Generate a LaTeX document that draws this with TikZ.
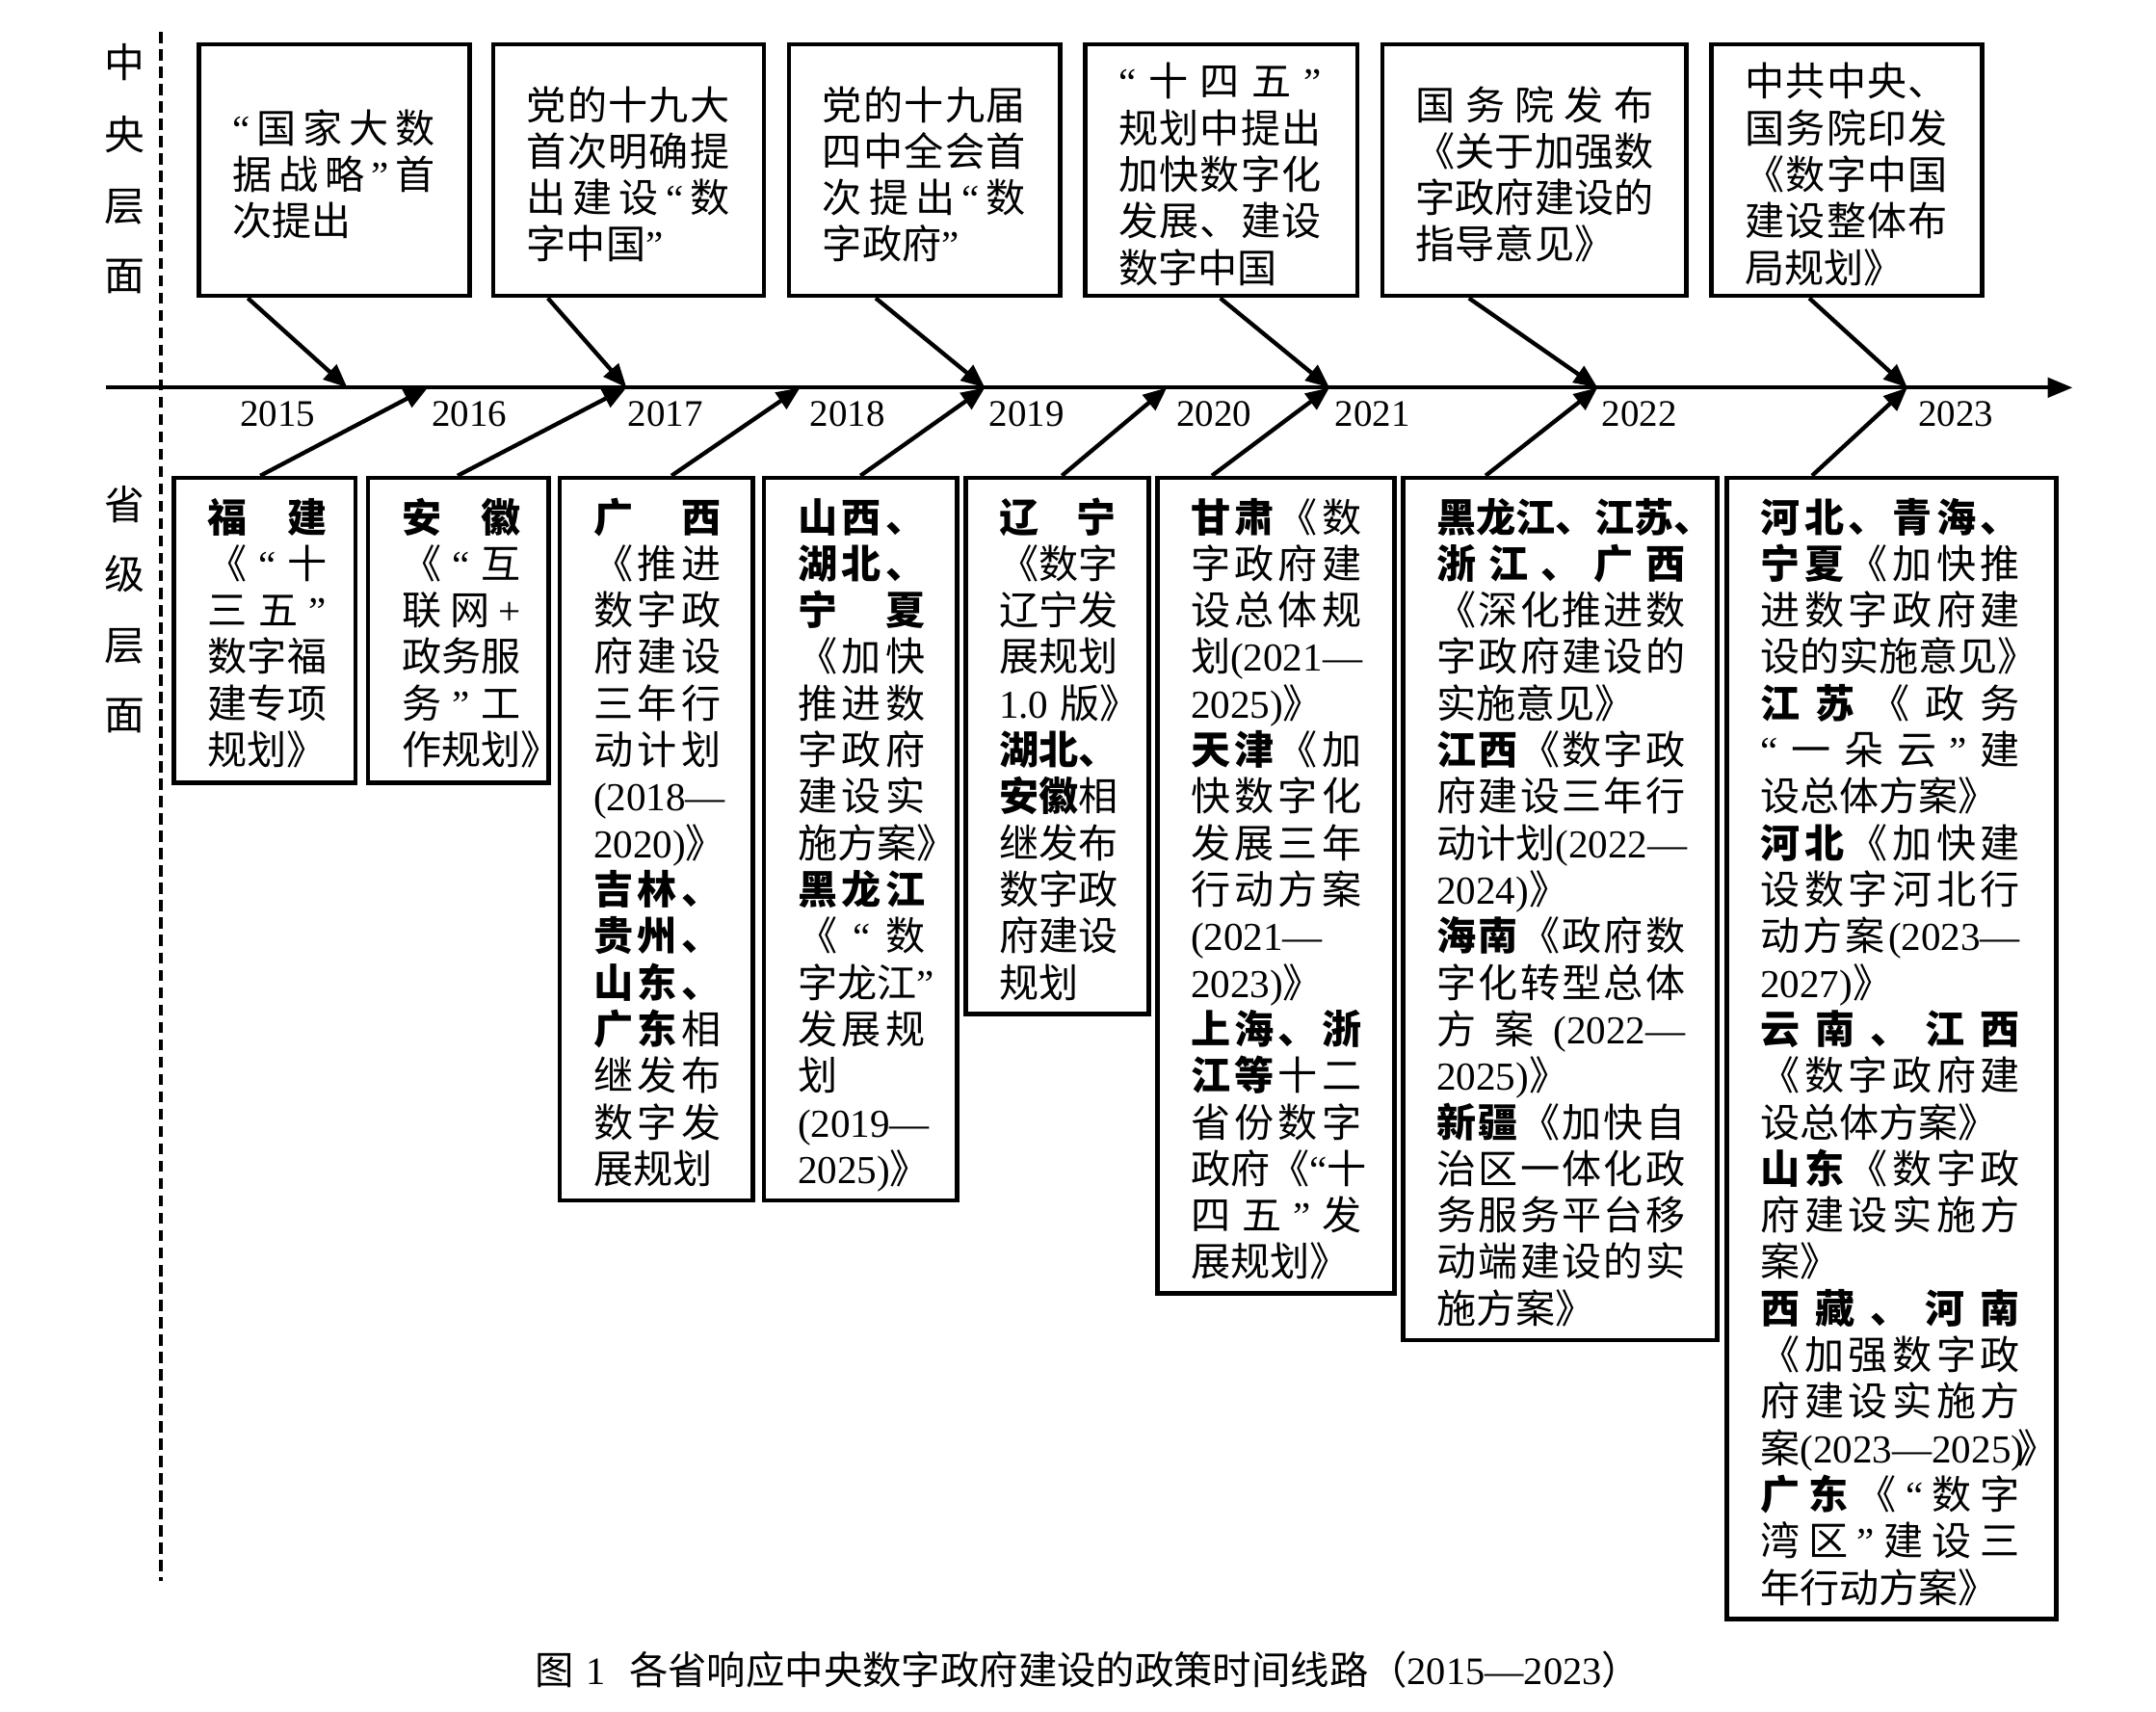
\documentclass[tikz,border=0pt]{standalone}
\usepackage{fontspec}
\setmainfont{Liberation Serif}
\newfontfamily\cjkfont{Noto Sans CJK SC}
\usetikzlibrary{arrows.meta,calc,fit}
\hfuzz=500pt \hbadness=10000 \vbadness=10000
\newdimen\bw
\newcount\cc
\cc=0 \loop\ifnum\cc<"3000 \XeTeXcharclass\cc=0 \advance\cc by 1 \repeat
\cc="3000 \loop\ifnum\cc<"3040 \XeTeXcharclass\cc=300 \advance\cc by 1 \repeat
\cc="3400 \loop\ifnum\cc<"A000 \XeTeXcharclass\cc=300 \advance\cc by 1 \repeat
\cc="FF00 \loop\ifnum\cc<"FFF0 \XeTeXcharclass\cc=300 \advance\cc by 1 \repeat
\newcommand\jg{\hskip 0pt plus 1fil\relax}
\XeTeXinterchartoks 0 300 = {\jg\cjkfont}
\XeTeXinterchartoks 4095 300 = {\cjkfont}
\XeTeXinterchartoks 300 0 = {\rmfamily\jg}
\XeTeXinterchartoks 300 4095 = {\rmfamily}
\XeTeXinterchartoks 300 300 = {\jg}
\XeTeXinterchartokenstate=1
\newcommand\jline[1]{\hbox to \bw{#1}}
\newcommand\eline[1]{\hbox to \bw{#1\hfill}}
\newcommand\bd[1]{{\bfseries #1}}
\newcommand\tbx[2]{\vtop{\bw=#1\relax\hsize=\bw\baselineskip=33.5pt\lineskiplimit=-200pt\lineskip=0pt\relax #2}}
\tikzset{
  bx/.style={draw, line width=3.2pt, inner sep=0pt},
  arr/.style={line width=3pt, -{Triangle[length=17pt,width=14pt]}},
  tx/.style={inner sep=0pt, anchor=base west, font=\fontsize{28.5}{33.5}\selectfont},
  yr/.style={inner sep=0pt, font=\fontsize{27}{27}\selectfont},
  lab/.style={inner sep=0pt, font=\fontsize{29}{29}\selectfont},
  captxt/.style={inner sep=0pt, font=\fontsize{28}{28}\selectfont}
}
\begin{document}
\begin{tikzpicture}[x=1pt,y=-1pt]
\fill[white] (0,0) rectangle (1552,1232);
\useasboundingbox (0,0) rectangle (1552,1232);
% dashed separator
\coordinate (d0) at (116,23);
\coordinate (d1) at (116,1138);
\draw[line width=2.6pt, dash pattern=on 8pt off 4.5pt] (d0) -- (d1);
% side labels
\node[lab] (s1) at (90,45) {中};
\node[lab] (s2) at (90,97) {央};
\node[lab] (s3) at (90,149) {层};
\node[lab] (s4) at (90,199) {面};
\node[lab] (s5) at (90,363) {省};
\node[lab] (s6) at (90,413) {级};
\node[lab] (s7) at (90,465) {层};
\node[lab] (s8) at (90,515) {面};
% timeline
\coordinate (tl0) at (76,279);
\coordinate (tl1) at (1492,279);
\draw[line width=3pt, -{Triangle[length=18pt,width=14pt]}] (tl0) -- (tl1);
\coordinate (p1) at (250,279);
\coordinate (p2) at (308,279);
\coordinate (p3) at (451,279);
\coordinate (p4) at (576,279);
\coordinate (p5) at (709,279);
\coordinate (p6) at (840,279);
\coordinate (p7) at (957,279);
\coordinate (p8) at (1150,279);
\coordinate (p9) at (1373,279);
% years
\node[yr] (y15) at (200,298) {2015};
\node[yr] (y16) at (338,298) {2016};
\node[yr] (y17) at (479,298) {2017};
\node[yr] (y18) at (610,298) {2018};
\node[yr] (y19) at (739,298) {2019};
\node[yr] (y20) at (874,298) {2020};
\node[yr] (y21) at (988,298) {2021};
\node[yr] (y22) at (1180,298) {2022};
\node[yr] (y23) at (1408,298) {2023};
% top boxes
\node[bx, fit={(143,32) (338,213)}] (cb1) {};
\node[bx, fit={(355,32) (550,213)}] (cb2) {};
\node[bx, fit={(568,32) (763,213)}] (cb3) {};
\node[bx, fit={(781,32) (977,213)}] (cb4) {};
\node[bx, fit={(995,32) (1214,213)}] (cb5) {};
\node[bx, fit={(1232,32) (1427,213)}] (cb6) {};
\node[tx] (ct1) at (167,102.8) {\tbx{146pt}{\jline{“国家大数}\jline{据战略”首}\eline{次提出}}};
\node[tx] (ct2) at (379,86) {\tbx{146pt}{\jline{党的十九大}\jline{首次明确提}\jline{出建设“数}\eline{字中国”}}};
\node[tx] (ct3) at (592,86) {\tbx{146pt}{\jline{党的十九届}\jline{四中全会首}\jline{次提出“数}\eline{字政府”}}};
\node[tx] (ct4) at (805,69.3) {\tbx{146pt}{\jline{“十四五”}\jline{规划中提出}\jline{加快数字化}\jline{发展、建设}\eline{数字中国}}};
\node[tx] (ct5) at (1019,86) {\tbx{171pt}{\jline{国务院发布}\jline{《关于加强数}\jline{字政府建设的}\eline{指导意见》}}};
\node[tx] (ct6) at (1256,69.3) {\tbx{146pt}{\jline{中共中央、}\jline{国务院印发}\jline{《数字中国}\jline{建设整体布}\eline{局规划》}}};
% top arrows
\draw[arr] ($(cb1.south west)+(37,0)$) -- (p1);
\draw[arr] ($(cb2.south west)+(41,0)$) -- (p3);
\draw[arr] ($(cb3.south west)+(64,0)$) -- (p5);
\draw[arr] ($(cb4.south west)+(99,0)$) -- (p7);
\draw[arr] ($(cb5.south west)+(64,0)$) -- (p8);
\draw[arr] ($(cb6.south west)+(72,0)$) -- (p9);
% lower boxes
\node[bx, fit={(125,344) (256,563.5)}] (pb1) {};
\node[bx, fit={(265,344) (395,563.5)}] (pb2) {};
\node[bx, fit={(403,344) (542,864)}] (pb3) {};
\node[bx, fit={(550,344) (689,864)}] (pb4) {};
\node[bx, fit={(695,344) (827,730)}] (pb5) {};
\node[bx, fit={(833,344) (1004,931)}] (pb6) {};
\node[bx, fit={(1010,344) (1236,964.5)}] (pb7) {};
\node[bx, fit={(1243,344) (1480,1165.5)}] (pb8) {};
% lower arrows
\draw[arr] ($(pb1.north west)+(64,0)$) -- (p2);
\draw[arr] ($(pb2.north west)+(66,0)$) -- (p3);
\draw[arr] ($(pb3.north west)+(82,0)$) -- (p4);
\draw[arr] ($(pb4.north west)+(71,0)$) -- (p5);
\draw[arr] ($(pb5.north west)+(71,0)$) -- (p6);
\draw[arr] ($(pb6.north west)+(41,0)$) -- (p7);
\draw[arr] ($(pb7.north west)+(61,0)$) -- (p8);
\draw[arr] ($(pb8.north west)+(63,0)$) -- (p9);
% lower texts
\node[tx] (pt1) at (149,382.8) {\tbx{86pt}{%
\jline{\bd{福建}}\jline{《“十}\jline{三五”}\jline{数字福}\jline{建专项}\eline{规划》}}};
\node[tx] (pt2) at (289,382.8) {\tbx{86pt}{%
\jline{\bd{安徽}}\jline{《“互}\jline{联网+}\jline{政务服}\jline{务”工}\eline{作规划》}}};
\node[tx] (pt3) at (427,382.8) {\tbx{92pt}{%
\jline{\bd{广西}}\jline{《推进}\jline{数字政}\jline{府建设}\jline{三年行}\jline{动计划}%
\eline{(2018—}\eline{2020)》}%
\jline{\bd{吉林、}}\jline{\bd{贵州、}}\jline{\bd{山东、}}\jline{\bd{广东}\jg 相}%
\jline{继发布}\jline{数字发}\eline{展规划}}};
\node[tx] (pt4) at (574,382.8) {\tbx{92pt}{%
\jline{\bd{山西、}}\jline{\bd{湖北、}}\jline{\bd{宁夏}}\jline{《加快}\jline{推进数}\jline{字政府}%
\jline{建设实}\eline{施方案》}\jline{\bd{黑龙江}}\jline{《“数}\jline{字龙江”}\jline{发展规}%
\eline{划}\eline{(2019—}\eline{2025)》}}};
\node[tx] (pt5) at (719,382.8) {\tbx{84pt}{%
\jline{\bd{辽宁}}\jline{《数字}\jline{辽宁发}\jline{展规划}\eline{1.0\kern 8pt 版》}%
\jline{\bd{湖北、}}\jline{\bd{安徽}\jg 相}\jline{继发布}\jline{数字政}\jline{府建设}\eline{规划}}};
\node[tx] (pt6) at (857,382.8) {\tbx{123pt}{%
\jline{\bd{甘肃}\jg 《数}\jline{字政府建}\jline{设总体规}\jline{划(2021—}\eline{2025)》}%
\jline{\bd{天津}\jg 《加}\jline{快数字化}\jline{发展三年}\jline{行动方案}\eline{(2021—}\eline{2023)》}%
\jline{\bd{上海、浙}}\jline{\bd{江等}\jg 十二}\jline{省份数字}\jline{政府《“十}\jline{四五”发}\eline{展规划》}}};
\node[tx] (pt7) at (1034,382.8) {\tbx{179pt}{%
\jline{\bd{黑龙江、江苏、}}\jline{\bd{浙江、广西}}\jline{《深化推进数}\jline{字政府建设的}\eline{实施意见》}%
\jline{\bd{江西}\jg 《数字政}\jline{府建设三年行}\jline{动计划(2022—}\eline{2024)》}%
\jline{\bd{海南}\jg 《政府数}\jline{字化转型总体}\jline{方\jg 案\jg (2022—}\eline{2025)》}%
\jline{\bd{新疆}\jg 《加快自}\jline{治区一体化政}\jline{务服务平台移}\jline{动端建设的实}\eline{施方案》}}};
\node[tx] (pt8) at (1267,382.8) {\tbx{187pt}{%
\jline{\bd{河北、青海、}}\jline{\bd{宁夏}\jg 《加快推}\jline{进数字政府建}\eline{设的实施意见》}%
\jline{\bd{江苏}\jg 《政务}\jline{“一朵云”建}\eline{设总体方案》}%
\jline{\bd{河北}\jg 《加快建}\jline{设数字河北行}\jline{动方案(2023—}\eline{2027)》}%
\jline{\bd{云南、江西}}\jline{《数字政府建}\eline{设总体方案》}%
\jline{\bd{山东}\jg 《数字政}\jline{府建设实施方}\eline{案》}%
\jline{\bd{西藏、河南}}\jline{《加强数字政}\jline{府建设实施方}\eline{案(2023—2025)\kern-5pt》}%
\jline{\bd{广东}\jg 《“数字}\jline{湾区”建设三}\eline{年行动方案》}}};
% caption
\node[captxt] (capt) at (783,1202) {图\hspace{9pt}1\hspace{17pt}各省响应中央数字政府建设的政策时间线路（2015—2023）};
\end{tikzpicture}
\end{document}
